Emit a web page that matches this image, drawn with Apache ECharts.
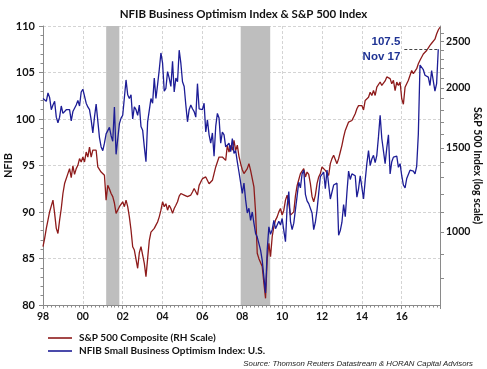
<!DOCTYPE html>
<html>
<head>
<meta charset="utf-8">
<script src="https://cdn.jsdelivr.net/npm/echarts@6/dist/echarts.min.js"></script>
<style>
html,body{margin:0;padding:0;background:#fff;}
#chart{width:487px;height:369px;}
</style>
</head>
<body>
<div id="chart"></div>
<script>
// ---- data (monthly, Jan 1998 .. Dec 2017) ----
var startYear = 1998;
var spLabel = 'S&P 500 Composite (RH Scale)';
var nfibLabel = 'NFIB Small Business Optimism Index: U.S.';
var yearTicks = ['98','00','02','04','06','08','10','12','14','16'];
var spTickValues = [1000, 1500, 2000, 2500];
var spMinorTicks = [800,900,1000,1100,1200,1300,1400,1500,1600,1700,1800,1900,2000,2100,2200,2300,2400,2500,2600];
var recessions = [[2001.17, 2001.83], [2007.92, 2009.4]];
var noteValue = 107.5;
var noteMonth = 'Nov 17';

var sp = [
  932, 970, 1018, 1059, 1103, 1111, 1166, 1094, 1018, 993, 1059, 1120,
  1204, 1263, 1263, 1325, 1357, 1300, 1375, 1320, 1357, 1379, 1424, 1401,
  1435, 1401, 1470, 1435, 1505, 1435, 1483, 1493, 1483, 1368, 1368, 1335,
  1346, 1314, 1166, 1252, 1230, 1204, 1186, 1150, 1094, 1103, 1130, 1138,
  1157, 1130, 1166, 1130, 1076, 1010, 932, 917, 910, 840, 906, 932,
  925, 860, 807, 880, 960, 1000, 993, 1018, 1034, 1050, 1076, 1111,
  1157, 1130, 1146, 1111, 1138, 1120, 1094, 1120, 1138, 1157, 1189, 1204,
  1208, 1195, 1204, 1186, 1177, 1195, 1213, 1233, 1242, 1195, 1252, 1273,
  1293, 1283, 1304, 1314, 1262, 1273, 1283, 1325, 1368, 1401, 1435, 1447,
  1435, 1424, 1412, 1518, 1470, 1518, 1483, 1555, 1480, 1520, 1440, 1390,
  1350, 1325, 1335, 1357, 1390, 1346, 1294, 1243, 1100, 903, 880, 888,
  847, 782, 727, 880, 947, 888, 978, 1026, 1059, 1076, 1102, 1120,
  1085, 1111, 1166, 1194, 1147, 1085, 1094, 1102, 1190, 1250, 1253, 1325,
  1314, 1357, 1304, 1335, 1320, 1263, 1186, 1157, 1195, 1263, 1304, 1325,
  1368, 1379, 1346, 1335, 1314, 1390, 1424, 1447, 1435, 1390, 1424, 1470,
  1518, 1579, 1631, 1644, 1698, 1711, 1711, 1725, 1767, 1810, 1838, 1852,
  1838, 1800, 1884, 1898, 1913, 1960, 1929, 1976, 1930, 2008, 2025, 2059,
  2025, 2042, 2070, 2110, 2100, 2093, 2042, 2076, 1976, 2059, 2025, 2059,
  1900, 1850, 2008, 2042, 2076, 2093, 2177, 2143, 2160, 2195, 2248, 2286,
  2305, 2356, 2376, 2396, 2416, 2457, 2481, 2476, 2530, 2594, 2645, 2680
];

var nfib = [
  102.2, 102.0, 101.9, 102.8, 102.3, 101.0, 101.5, 101.9, 100.2, 99.6, 100.2, 101.4,
  100.6, 100.8, 101.0, 101.0, 101.0, 99.8, 100.8, 100.6, 101.5, 102.0, 101.4, 102.9,
  103.2, 103.4, 101.7, 101.3, 101.0, 99.9, 98.5, 100.2, 101.6, 101.5, 98.0, 97.0,
  96.6, 97.4, 98.4, 98.3, 99.1, 98.2, 97.6, 101.3, 96.2, 96.2, 99.5, 100.1,
  100.4, 100.5, 104.2, 102.6, 102.2, 102.6, 100.0, 101.3, 101.0, 100.4, 101.5, 99.2,
  98.8, 97.0, 95.4, 99.7, 99.9, 102.2, 101.7, 104.4, 102.2, 103.7, 105.3, 107.1,
  106.0, 103.0, 103.3, 105.1, 104.4, 103.5, 106.2, 102.9, 104.4, 104.0, 107.4, 106.0,
  104.0, 103.5, 101.5, 99.7, 101.0, 101.5, 101.1, 100.8, 100.2, 103.8, 101.1, 101.3,
  101.0, 101.7, 98.6, 99.9, 98.3, 97.4, 98.5, 96.0, 99.2, 100.6, 100.1, 97.4,
  98.6, 98.3, 97.0, 97.0, 97.4, 96.5, 97.9, 96.3, 96.6, 95.4, 94.3, 94.5,
  92.0, 93.1, 91.3, 89.9, 90.4, 89.1, 90.0, 88.8, 87.7, 87.3, 87.5, 85.9,
  84.8, 83.0, 81.3, 85.9, 88.4, 87.6, 88.1, 89.1, 88.2, 88.6, 89.0, 88.6,
  89.3, 88.0, 86.8, 90.6, 92.2, 89.0, 88.1, 88.8, 89.0, 91.7, 93.2, 92.6,
  94.1, 94.5, 91.9, 91.2, 90.9, 90.8, 89.9, 88.1, 88.9, 90.2, 92.0, 93.8,
  93.9, 94.3, 92.5, 94.5, 94.4, 91.4, 91.2, 92.9, 92.8, 93.1, 87.5, 88.0,
  88.9, 90.8, 89.5, 92.1, 94.4, 93.5, 94.1, 94.0, 93.9, 91.6, 92.5, 93.9,
  94.1, 91.4, 93.4, 95.2, 96.6, 95.0, 95.7, 96.1, 95.3, 96.1, 98.1, 100.4,
  97.9, 98.0, 95.2, 96.9, 98.3, 94.1, 95.4, 95.9, 96.1, 96.0, 94.8, 95.2,
  93.9, 92.9, 92.6, 93.6, 93.8, 94.5, 94.6, 94.4, 94.1, 94.9, 98.4, 105.8,
  105.9, 105.3, 104.7, 104.5, 104.5, 103.6, 105.2, 105.3, 103.0, 103.8, 107.5, null
];

// ---- build ----
function monthX(i) { return startYear + i / 12; }
var spData = sp.map(function (v, i) { return [monthX(i), v]; });
var nfibData = nfib.map(function (v, i) { return [monthX(i), v]; });
var noteIndex = nfib.lastIndexOf(noteValue);

var FONT = 'Lato';
var RED = '#8e1b1b';
var BLUE = '#1d1d96';

var chart = echarts.init(document.getElementById('chart'), null, {renderer: 'canvas'});
chart.setOption({
  animation: false,
  backgroundColor: '#ffffff',
  textStyle: {fontFamily: FONT},
  title: [
    {text: 'NFIB Business Optimism Index & S&P 500 Index', left: 'center', top: 3,
     textStyle: {fontFamily: FONT, fontSize: 11.5, fontWeight: 'bold', color: '#111'}},
    {text: 'Source: Thomson Reuters Datastream & HORAN Capital Advisors', right: 9, top: 355,
     textStyle: {fontFamily: 'Liberation Sans', fontSize: 7.8, fontStyle: 'italic', fontWeight: 'normal', color: '#222'}}
  ],
  legend: [
    {data: [spLabel], left: 43, top: 328, orient: 'horizontal', icon: 'rect', itemWidth: 24, itemHeight: 1.6, itemGap: 0,
     textStyle: {fontFamily: FONT, fontSize: 10, fontWeight: 'bold', color: '#111', padding: [0,0,0,2]}},
    {data: [nfibLabel], left: 43, top: 341, orient: 'horizontal', icon: 'rect', itemWidth: 24, itemHeight: 1.6, itemGap: 0,
     textStyle: {fontFamily: FONT, fontSize: 10, fontWeight: 'bold', color: '#111', padding: [0,0,0,2]}}
  ],
  grid: {left: 43, right: 47, top: 26, bottom: 64, containLabel: false, outerBoundsMode: 'none'},
  xAxis: {
    type: 'value', min: 1998, max: 2017.92, interval: 2,
    axisLine: {show: true, lineStyle: {color: '#8a8a8a', width: 1}},
    axisTick: {show: true, inside: false, length: 4, lineStyle: {color: '#8a8a8a'}},
    minorTick: {show: true, splitNumber: 10, length: 2.5, lineStyle: {color: '#8a8a8a'}},
    splitLine: {show: true, lineStyle: {color: '#d4d4d4', type: [3, 2], width: 1}},
    axisLabel: {
      fontFamily: FONT, fontSize: 10.5, fontWeight: 'bold', color: '#111', margin: 6,
      showMaxLabel: false,
      formatter: function (v) {
        var k = Math.round((v - startYear) / 2);
        if (Math.abs(v - (startYear + 2 * k)) > 1e-6) return '';
        return yearTicks[k] || '';
      }
    }
  },
  yAxis: [
    {
      type: 'value', min: 80, max: 110, interval: 5, position: 'left',
      name: 'NFIB', nameLocation: 'middle', nameGap: 29, nameRotate: 90, nameMoveOverlap: false,
      nameTextStyle: {fontFamily: FONT, fontSize: 11, fontWeight: 'bold', color: '#111'},
      axisLine: {show: true, lineStyle: {color: '#8a8a8a', width: 1}},
      axisTick: {show: true, inside: false, length: 4, lineStyle: {color: '#8a8a8a'}},
      minorTick: {show: true, splitNumber: 5, length: 2.5, lineStyle: {color: '#8a8a8a'}},
      splitLine: {show: true, lineStyle: {color: '#d4d4d4', type: [3, 2], width: 1}},
      axisLabel: {fontFamily: FONT, fontSize: 11, fontWeight: 'bold', color: '#111', margin: 8}
    },
    {
      type: 'log', logBase: 10, min: 704, max: 2696, position: 'right',
      name: 'S&P 500 Index (log scale)', nameLocation: 'middle', nameGap: 32, nameRotate: -90, nameMoveOverlap: false,
      nameTextStyle: {fontFamily: FONT, fontSize: 10.5, fontWeight: 'bold', color: '#111'},
      axisLine: {show: true, lineStyle: {color: '#8a8a8a', width: 1}},
      axisTick: {show: true, inside: false, length: 4, customValues: spMinorTicks, lineStyle: {color: '#8a8a8a'}},
      minorTick: {show: false},
      splitLine: {show: false},
      axisLabel: {fontFamily: FONT, fontSize: 10.5, fontWeight: 'bold', color: '#111', margin: 6,
                  customValues: spTickValues,
                  formatter: function (v) { return String(Math.round(v)); }}
    }
  ],
  series: [
    {
      name: 'recessions', type: 'line', data: [], z: 1, silent: true,
      markArea: {
        silent: true,
        itemStyle: {color: '#bebebe', opacity: 1},
        data: recessions.map(function (r) { return [{xAxis: r[0]}, {xAxis: r[1]}]; })
      }
    },
    {
      name: spLabel, type: 'line', yAxisIndex: 1, data: spData, z: 3,
      showSymbol: false, symbol: 'none',
      lineStyle: {color: RED, width: 1.3}, itemStyle: {color: RED}
    },
    {
      name: nfibLabel, type: 'line', yAxisIndex: 0, data: nfibData, z: 4,
      showSymbol: false, symbol: 'none', connectNulls: false,
      lineStyle: {color: BLUE, width: 1.3}, itemStyle: {color: BLUE},
      markLine: {
        silent: true, symbol: ['none', 'none'],
        lineStyle: {color: '#444', type: [3, 2], width: 1},
        label: {show: true, position: 'start', distance: 4, formatter: noteValue.toFixed(1) + '\n' + noteMonth,
                fontFamily: 'Liberation Sans', fontSize: 11.5, fontWeight: 'bold', color: '#1f3394', lineHeight: 15, align: 'right',
                padding: [3, 0, 0, 0]},
        data: [[{coord: [2016.13, noteValue]}, {coord: [monthX(noteIndex), noteValue]}]]
      }
    }
  ]
});
</script>
</body>
</html>
